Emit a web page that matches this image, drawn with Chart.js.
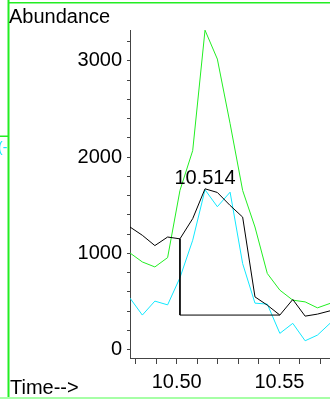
<!DOCTYPE html>
<html>
<head>
<meta charset="utf-8">
<script src="https://cdn.jsdelivr.net/npm/chart.js@4.4.1/dist/chart.umd.min.js"></script>
<style>
    html, body { margin: 0; padding: 0; background: #fff; }
    canvas { display: block; }
</style>
</head>
<body>
<canvas id="ticChart" width="330" height="399"></canvas>
<script>
'use strict';

// retention times (min) of the scans
const times = [10.4773, 10.4833, 10.4894, 10.4956, 10.5016, 10.5078, 10.5138, 10.5198, 10.5260,
               10.5321, 10.5381, 10.5441, 10.5502, 10.5565, 10.5625, 10.5685, 10.5746];

// abundance per trace
const ticBlack = [1273, 1187, 1080, 1169, 1150, 1360, 1670, 1632, 1497, 1376, 547, 461, 358, 520, 347, 368, 402];
const ionGreen = [1003, 910, 858, 955, 1653, 2067, 3318, 3018, 2347, 1653, 1273, 790, 617, 513, 495, 433, 479];
const ionCyan = [534, 358, 503, 464, 746, 1135, 1660, 1484, 1635, 893, 482, 472, 168, 272, 91, 150, 272];

// integration baseline: start, drop, end
const baseTimes = [10.5016, 10.5016, 10.5502];
const baseValues = [1150, 358, 358];

// peak annotation
const peakTime = 10.5138;
const peakValue = 1670;

// axes
const xTicks = [10.48, 10.49, 10.50, 10.51, 10.52, 10.53, 10.54, 10.55, 10.56, 10.57];
const yTicks = [0, 200, 400, 600, 800, 1000, 1200, 1400, 1600, 1800, 2000, 2200, 2400, 2600, 2800, 3000, 3200];
const xTitle = 'Time-->';
const yTitle = 'Abundance';

function toPoints(xs, ys) {
    const pts = [];
    for (let i = 0; i < xs.length; i++)
        pts.push({ x: xs[i], y: ys[i] });
    return pts;
}

function lineSet(data, color) {
    return {
        data: data,
        borderColor: color,
        borderWidth: 1,
        pointRadius: 0,
        fill: false,
        tension: 0
    };
}

const FONT = '"Liberation Sans", Arial, sans-serif';

const decorations = {
    id: 'decorations',
    afterDraw: function (chart) {
        const ctx = chart.ctx;
        const xs = chart.scales.x;
        const ys = chart.scales.y;
        ctx.save();

        // window frame
        ctx.fillStyle = '#22ee22';
        ctx.fillRect(7.5, 0, 2, 399);
        ctx.fillRect(8, 2, 322, 1.5);
        ctx.fillRect(0, 135.5, 8, 1.5);
        ctx.fillStyle = '#a6ffa6';
        ctx.fillRect(0, 397, 330, 2);

        // clipped cyan glyph at the left margin
        ctx.fillStyle = '#11e8ff';
        ctx.font = '14px ' + FONT;
        ctx.textBaseline = 'alphabetic';
        ctx.textAlign = 'left';
        ctx.fillText('(-', -2, 152);

        ctx.fillStyle = '#000';
        ctx.font = '20px ' + FONT;
        ctx.fillText(yTitle, 9, 22.5);
        ctx.fillText(xTitle, 10, 393.5);

        ctx.textAlign = 'center';
        ctx.fillText(peakTime.toFixed(3), xs.getPixelForValue(peakTime), ys.getPixelForValue(peakValue) - 5);
        ctx.restore();
    }
};

const config = {
    type: 'line',
    data: {
        datasets: [
            lineSet(toPoints(baseTimes, baseValues), '#000'),
            lineSet(toPoints(times, ticBlack), '#000'),
            lineSet(toPoints(times, ionCyan), '#11e8ff'),
            lineSet(toPoints(times, ionGreen), '#22ee22')
        ]
    },
    options: {
        responsive: false,
        animation: false,
        events: [],
        layout: { padding: { top: 30, left: 0, right: 0, bottom: 0 } },
        plugins: {
            legend: { display: false },
            tooltip: { enabled: false }
        },
        scales: {
            x: {
                type: 'linear',
                min: 10.4773,
                max: 10.5746,
                border: { display: true, color: '#444', width: 1 },
                grid: { drawOnChartArea: false, drawTicks: true, tickLength: 6, tickColor: '#444' },
                ticks: {
                    autoSkip: false,
                    maxRotation: 0,
                    padding: 6,
                    color: '#000',
                    font: { family: FONT, size: 20 },
                    callback: function (v) {
                        const hund = Math.round(v * 100);
                        return hund % 5 === 0 ? (hund / 100).toFixed(2) : '';
                    }
                },
                afterBuildTicks: function (scale) {
                    scale.ticks = xTicks.map(function (v) { return { value: v }; });
                },
                afterFit: function (scale) {
                    scale.height = 41;
                    scale.paddingLeft = 0;
                    scale.paddingRight = 0;
                }
            },
            y: {
                type: 'linear',
                min: -88,
                max: 3320,
                border: { display: true, color: '#444', width: 1 },
                grid: { drawOnChartArea: false, drawTicks: true, tickLength: 3, tickColor: '#444' },
                ticks: {
                    autoSkip: false,
                    padding: 5,
                    color: '#000',
                    font: { family: FONT, size: 20 },
                    callback: function (v) {
                        return v % 1000 === 0 ? String(v) : '';
                    }
                },
                afterBuildTicks: function (scale) {
                    scale.ticks = yTicks.map(function (v) { return { value: v }; });
                },
                afterFit: function (scale) {
                    scale.width = 130;
                    scale.paddingTop = 0;
                    scale.paddingBottom = 0;
                }
            }
        }
    },
    plugins: [decorations]
};

new Chart(document.getElementById('ticChart'), config);
</script>
</body>
</html>
